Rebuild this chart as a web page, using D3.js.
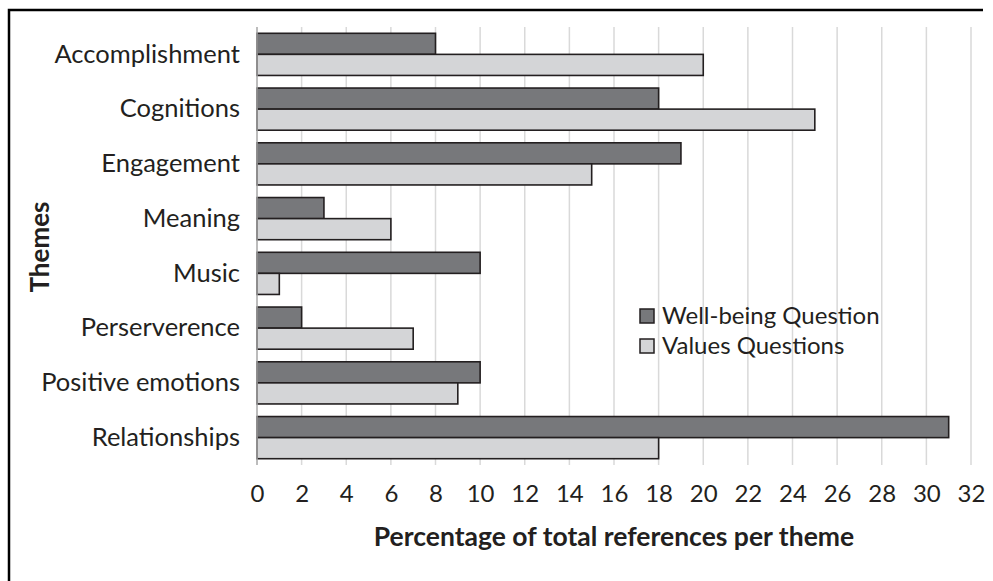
<!DOCTYPE html>
<html>
<head>
<meta charset="utf-8">
<script src="https://cdn.jsdelivr.net/npm/d3@7"></script>
<style>
  body { margin: 0; background: #fff; }
  text { font-family: Lato, "Open Sans", sans-serif; fill: #231f20; }
</style>
</head>
<body>
<svg id="chart" width="993" height="581"></svg>
<script>
const themes = [
    "Accomplishment",
    "Cognitions",
    "Engagement",
    "Meaning",
    "Music",
    "Perserverence",
    "Positive emotions",
    "Relationships"
];
const seriesNames = ["Well-being Question", "Values Questions"];
const wellBeing = [8, 18, 19, 3, 10, 2, 10, 31];
const values = [20, 25, 15, 6, 1, 7, 9, 18];
const xTicks = d3.range(0, 33, 2);

const colors = ["#77787b", "#d4d5d7"];

const svg = d3.select("#chart");

// outer frame (only top and left edges visible)
svg.append("path")
    .attr("d", "M9,581 V10 H983")
    .attr("fill", "none")
    .attr("stroke", "#000")
    .attr("stroke-width", 2.5);

const x = d3.scaleLinear().domain([0, 32]).range([257, 971]);
const y = d3
    .scaleBand()
    .domain(themes)
    .range([27, 465])
    .paddingInner(0.23)
    .paddingOuter(0.115);
const ySub = d3
    .scaleBand()
    .domain(seriesNames)
    .range([0, y.bandwidth()]);

// gridlines
svg.append("g")
    .selectAll("line")
    .data(xTicks.slice(1))
    .enter()
    .append("line")
    .attr("x1", (d) => x(d))
    .attr("x2", (d) => x(d))
    .attr("y1", 27)
    .attr("y2", 465)
    .attr("stroke", "#d9d9d9")
    .attr("stroke-width", 1.5);

// x axis tick labels
const xAxis = d3.axisBottom(x).tickValues(xTicks).tickSize(0).tickPadding(20);
const gx = svg.append("g").attr("transform", "translate(0,465)").call(xAxis);
gx.select(".domain").remove();
gx.selectAll("text")
    .attr("font-size", 24)
    .attr("font-family", "Lato, sans-serif")
    .attr("fill", "#231f20");

// bars
const rows = themes.map((t, i) => ({ theme: t, vals: [wellBeing[i], values[i]] }));
const groups = svg.append("g")
    .selectAll("g")
    .data(rows)
    .enter()
    .append("g")
    .attr("transform", (d) => `translate(0,${y(d.theme)})`);

groups.selectAll("rect")
    .data((d) => d.vals.map((v, j) => ({ v, s: seriesNames[j], j })))
    .enter()
    .append("rect")
    .attr("x", x(0))
    .attr("y", (d) => ySub(d.s))
    .attr("width", (d) => x(d.v) - x(0))
    .attr("height", ySub.bandwidth())
    .attr("fill", (d) => colors[d.j])
    .attr("stroke", "#231f20")
    .attr("stroke-width", 1.6);

// y axis line
svg.append("line")
    .attr("x1", x(0))
    .attr("x2", x(0))
    .attr("y1", 27)
    .attr("y2", 465)
    .attr("stroke", "#a6a6a6")
    .attr("stroke-width", 1.5);

// y axis labels
const yAxis = d3.axisLeft(y).tickSize(0).tickPadding(17);
const gy = svg.append("g").attr("transform", `translate(${x(0)},0)`).call(yAxis);
gy.select(".domain").remove();
gy.selectAll("text")
    .attr("font-size", 25.5)
    .attr("font-family", "Lato, sans-serif")
    .attr("fill", "#231f20");

// axis titles
svg.append("text")
    .attr("x", 614)
    .attr("y", 546)
    .attr("text-anchor", "middle")
    .attr("font-size", 26.5)
    .attr("font-weight", "bold")
    .text("Percentage of total references per theme");

svg.append("text")
    .attr("transform", "translate(49,247) rotate(-90)")
    .attr("text-anchor", "middle")
    .attr("font-size", 26)
    .attr("font-weight", "bold")
    .text("Themes");

// legend
const legend = svg.append("g").attr("transform", "translate(640,309)");
const li = legend.selectAll("g")
    .data(seriesNames)
    .enter()
    .append("g")
    .attr("transform", (d, i) => `translate(0,${i * 30})`);
li.append("rect")
    .attr("width", 14)
    .attr("height", 14)
    .attr("fill", (d, i) => colors[i])
    .attr("stroke", "#231f20")
    .attr("stroke-width", 1.5);
li.append("text")
    .attr("x", 22)
    .attr("y", 7)
    .attr("dy", "0.35em")
    .attr("font-size", 24)
    .text((d) => d);
</script>
</body>
</html>
